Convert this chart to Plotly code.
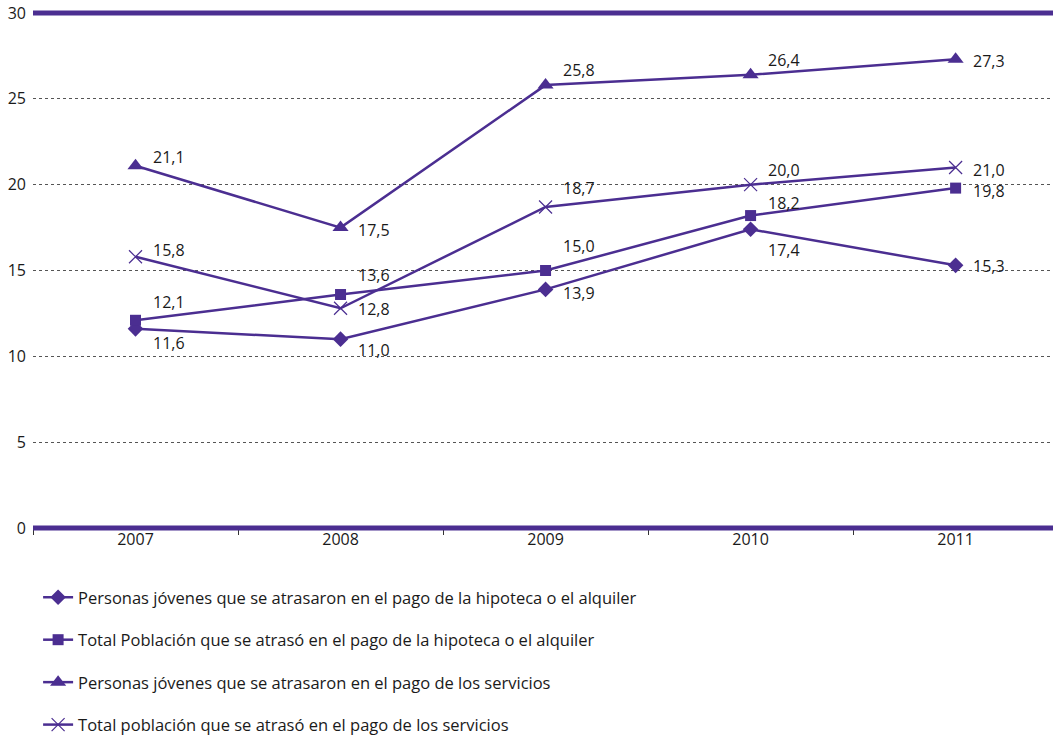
import plotly.graph_objects as go

years = ["2007", "2008", "2009", "2010", "2011"]
jovenes_hipoteca = [11.6, 11.0, 13.9, 17.4, 15.3]
total_hipoteca = [12.1, 13.6, 15.0, 18.2, 19.8]
jovenes_servicios = [21.1, 17.5, 25.8, 26.4, 27.3]
total_servicios = [15.8, 12.8, 18.7, 20.0, 21.0]

names = [
    "Personas jóvenes que se atrasaron en el pago de la hipoteca o el alquiler",
    "Total Población que se atrasó en el pago de la hipoteca o el alquiler",
    "Personas jóvenes que se atrasaron en el pago de los servicios",
    "Total población que se atrasó en el pago de los servicios",
]
series = [jovenes_hipoteca, total_hipoteca, jovenes_servicios, total_servicios]
symbols = ["diamond", "square", "triangle-up", "x-thin-open"]
sizes = [12, 11, 14, 13]

# label vertical offsets (pixels, positive = up) per series/point
label_dy = [
    [-14, -11, -4, -21, -1],
    [18, 20, 25, 13, -3],
    [9, -2, 15, 15, -2],
    [7, -1, 19, 15, -2],
]

PURPLE = "#4b2e91"
FONT = "Open Sans"
TXT = "#1a1a1a"

fig = go.Figure()
for s, name, sym, sz in zip(series, names, symbols, sizes):
    fig.add_trace(go.Scatter(
        x=years, y=s, name=name, mode="lines+markers",
        line=dict(color=PURPLE, width=2.5),
        marker=dict(symbol=sym, size=sz, color=PURPLE,
                    line=dict(color=PURPLE, width=1.2 if sym.startswith("x") else 0)),
        legendgroup=name,
    ))

for s, dys in zip(series, label_dy):
    for i, (v, dy) in enumerate(zip(s, dys)):
        fig.add_annotation(
            x=i, y=v, xref="x", yref="y",
            text=f"{v:.1f}".replace(".", ","),
            showarrow=False, xanchor="left", yanchor="middle",
            xshift=15, yshift=dy,
            font=dict(family=FONT, size=16, color=TXT),
        )

# thick frame lines at the bottom (0) and top (30) of the value axis
for yp in [0, 1]:
    fig.add_shape(type="line", xref="paper", yref="paper", x0=0, x1=1, y0=yp, y1=yp,
                  line=dict(color=PURPLE, width=5), layer="above")

fig.update_layout(
    width=1053, height=736,
    margin=dict(l=33, r=0, t=13, b=208, autoexpand=False),
    plot_bgcolor="white", paper_bgcolor="white",
    font=dict(family=FONT, size=16, color=TXT),
    showlegend=True,
    legend=dict(
        x=0.005, xanchor="left", y=-0.101, yanchor="top",
        orientation="v", traceorder="grouped", tracegroupgap=18,
        font=dict(family=FONT, size=16.5, color=TXT),
        bgcolor="rgba(0,0,0,0)",
    ),
    xaxis=dict(
        type="category", range=[-0.5, 4.475],
        tickson="boundaries", ticks="outside", ticklen=6, tickcolor="#333",
        showgrid=False, showline=False, zeroline=False,
        tickfont=dict(family=FONT, size=16, color=TXT),
    ),
    yaxis=dict(
        range=[0, 30], tickvals=[0, 5, 10, 15, 20, 25, 30],
        showgrid=True, gridcolor="#555", griddash="dot", gridwidth=1,
        zeroline=False, showline=False, ticks="", ticklabelstandoff=6,
        ticklabeloverflow="allow",
        tickfont=dict(family=FONT, size=16, color=TXT),
    ),
)

fig.write_html("out.html", config={"displayModeBar": False},
               post_script="document.body.style.margin='0';")
